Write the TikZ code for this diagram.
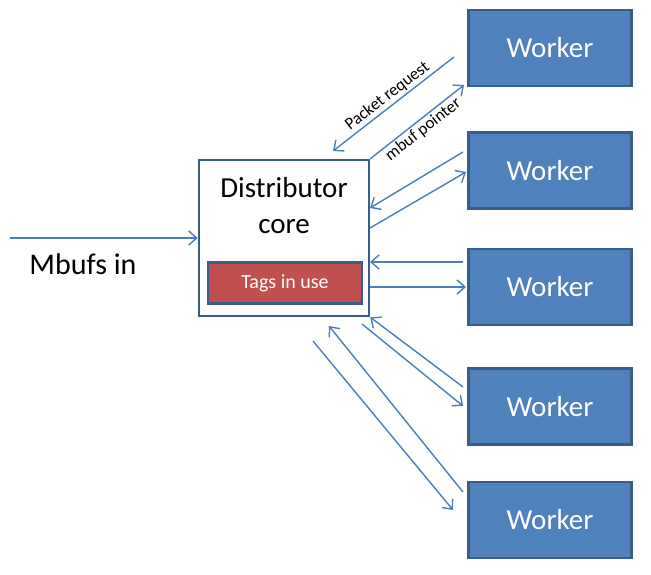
\documentclass[tikz,border=0pt]{standalone}
\usepackage{fontspec}
\setmainfont{Carlito}
\usetikzlibrary{arrows.meta,positioning}
\definecolor{wfill}{HTML}{4F81BD}
\definecolor{wline}{HTML}{385D8A}
\definecolor{arrowc}{HTML}{4A7EBB}
\definecolor{tagfill}{HTML}{C0504D}
\tikzset{
    -{Straight Barb[length=8pt,width=14pt]},auto,
    flow/.style ={draw=arrowc, line width=1.4pt},
    worker/.style ={rectangle, draw=wline, fill=wfill, line width=2.5pt, minimum width=163pt, minimum height=76pt, text=white, font=\fontsize{29}{33}\selectfont},
    distbox/.style ={rectangle, draw=wline, fill=white, line width=2.5pt, minimum width=170pt, minimum height=156pt},
    tagbox/.style ={rectangle, draw=wline, fill=tagfill, line width=2.5pt, minimum width=154pt, minimum height=41pt, text=white, font=\fontsize{20}{24}\selectfont},
    el/.style = {inner sep=2pt, sloped, font=\fontsize{17}{20}\selectfont}
}
\begin{document}
\begin{tikzpicture}[x=1pt,y=-1pt]
    \useasboundingbox (0,0) rectangle (651,575);

    % workers on the right
    \node[worker] (w1) at (550,48) {Worker};
    \node[worker] (w2) at (550,170.5) {Worker};
    \node[worker] (w3) at (550,287) {Worker};
    \node[worker] (w4) at (550,406.5) {Worker};
    \node[worker] (w5) at (550,520) {Worker};

    % distributor core
    \node[distbox] (dist) at (284,238) {};
    \node[align=center, font=\fontsize{29}{36}\selectfont] (distlbl) at (284,206) {Distributor\\core};
    \node[tagbox] (tags) at (285,283) {Tags in use};

    \node[font=\fontsize{30}{34}\selectfont] (mbin) at (83,264) {Mbufs in};

    % free ends of the connectors
    \coordinate (in) at (10,238);
    \coordinate (pr1) at (454,57);
    \coordinate (pr2) at (333,151);
    \coordinate (mp) at (464,85);
    \coordinate (a2) at (463,152);
    \coordinate (b2) at (370,208);
    \coordinate (c2) at (370,228);
    \coordinate (d2) at (466,172);
    \coordinate (a3) at (463,262);
    \coordinate (b3) at (370,262);
    \coordinate (c3) at (370,287);
    \coordinate (d3) at (466,287);
    \coordinate (a4) at (463,387);
    \coordinate (c4) at (362,324);
    \coordinate (d4) at (463,406);
    \coordinate (a5) at (463,492);
    \coordinate (b5) at (329,326);
    \coordinate (c5) at (313,341);
    \coordinate (d5) at (453,510);

    % incoming mbufs
    \draw[flow] (in) -- (dist.west);

    % request and pointer
    \draw[flow] (pr1) -- node[el, above] {Packet request} (pr2);
    \draw[flow] (dist.north east) -- node[el, below] {mbuf pointer} (mp);

    \draw[flow] (a2) -- (b2);
    \draw[flow] (c2) -- (d2);
    \draw[flow] (a3) -- (b3);
    \draw[flow] (c3) -- (d3);
    \draw[flow] (a4) -- (dist.south east);
    \draw[flow] (c4) -- (d4);
    \draw[flow] (a5) -- (b5);
    \draw[flow] (c5) -- (d5);

\end{tikzpicture}
\end{document}
